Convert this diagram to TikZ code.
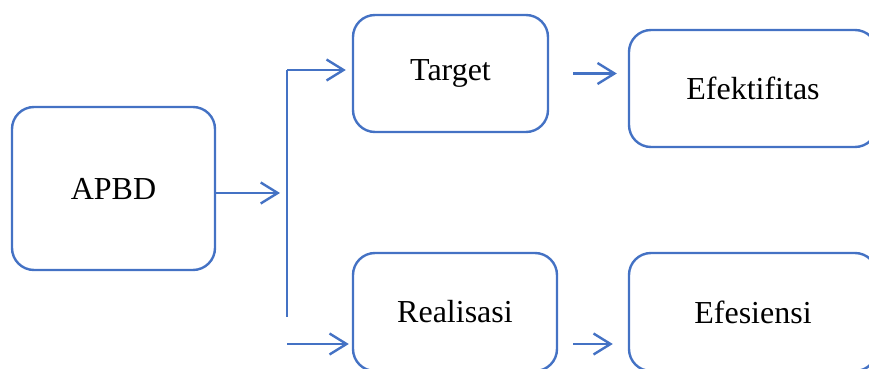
\documentclass[tikz,border=0pt]{standalone}
\usepackage{fontspec}
\setmainfont{Liberation Serif}
\usepackage{tikz}
\usetikzlibrary{arrows.meta}
\usetikzlibrary{positioning}
\usetikzlibrary{calc}
\definecolor{garis}{HTML}{4472C4}
\tikzset{
  box_r/.style = {draw=garis, line width=1.2pt, rounded corners=11pt,
    align=center, inner sep=0pt, font=\fontsize{16}{19}\selectfont},% kotak biru
  arr_b/.style = {draw=garis, line width=1.2pt,
    -{Straight Barb[length=8.5pt,width=10.5pt]}},% panah terbuka
  ln_b/.style = {draw=garis, line width=1.2pt}% garis biasa
}
\begin{document}
\begin{tikzpicture}[x=0.5pt,y=-0.5pt]
\useasboundingbox (0,0) rectangle (869,369);
\clip (0,0) rectangle (869,369);
\node [box_r, minimum width=101.5pt, minimum height=81.5pt] (apbd) at (113.5,188.5) {APBD};
\node [box_r, minimum width=97.5pt, minimum height=58.5pt] (target) at (450.5,73.5) {Target};
\node [box_r, minimum width=124pt, minimum height=58.5pt] (efek) at (753,88.5) {Efektifitas};
\node [box_r, minimum width=102pt, minimum height=59pt] (real) at (455,312) {Realisasi};
\node [box_r, minimum width=124pt, minimum height=59pt] (efes) at (753,312) {Efesiensi};

\coordinate (a1) at ([yshift=-2.25pt]apbd.east);
\coordinate (a2) at (280,193);
\coordinate (up) at (287,70);
\coordinate (dn) at (287,317);
\coordinate (b1) at (287,344);
\coordinate (r1) at ([xshift=7.5pt,yshift=-16pt]real.east);

\draw[arr_b] (a1) -- (a2);
\draw[ln_b] (dn) -- (up);
\draw[arr_b, shorten >=3pt] (up) -- (up -| target.west);
\draw[arr_b, shorten >=1.5pt] (b1) -- (b1 -| real.west);
\draw[arr_b, shorten <=12pt, shorten >=5.5pt] (target.east) -- (target.east -| efek.west);
\draw[arr_b, shorten >=7.5pt] (r1) -- (r1 -| efes.west);
\end{tikzpicture}
\end{document}
